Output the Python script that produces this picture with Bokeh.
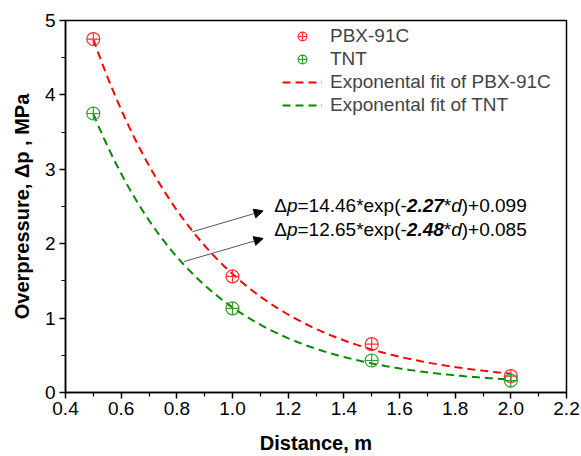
import numpy as np
from bokeh.plotting import figure
from bokeh.models import (Legend, LegendItem, Label, Arrow, NormalHead,
                          FixedTicker, Range1d, NumeralTickFormatter)
from bokeh.embed import file_html
from bokeh.resources import INLINE

# ---- data ----
distance = [0.5, 1.0, 1.5, 2.0]
pbx_overpressure = [4.75, 1.56, 0.65, 0.22]
tnt_overpressure = [3.75, 1.13, 0.43, 0.16]

# exponential fit coefficients: dp = A*exp(-B*d) + C
pbx_fit = [14.46, 2.27, 0.099]
tnt_fit = [12.65, 2.48, 0.085]
fit_range = [0.5, 2.0]

x_ticks = [0.4, 0.6, 0.8, 1.0, 1.2, 1.4, 1.6, 1.8, 2.0, 2.2]
y_ticks = [0, 1, 2, 3, 4, 5]

legend_labels = ["PBX-91C", "TNT", "Exponental fit of PBX-91C", "Exponental fit of TNT"]
x_title = "Distance, m"
y_title = "Overpressure, \u0394p , MPa"

# arrows (start x, start y, end x, end y)
arrow_pbx = [0.856, 2.16, 1.11, 2.44]
arrow_tnt = [0.826, 1.76, 1.11, 2.07]

FONT = "Liberation Sans"
RED_M, GREEN_M = "#ff3030", "#2e9e2e"
RED_L, GREEN_L = "#ff0000", "#008a00"

W, H = 581, 456
p = figure(width=W, height=H, output_backend="svg", toolbar_location=None,
           x_range=Range1d(0.4, 2.2), y_range=Range1d(0, 5),
           min_border_left=65, min_border_right=15, min_border_top=20, min_border_bottom=63)
p.background_fill_color = "white"
p.border_fill_color = "white"
p.outline_line_color = "black"
p.outline_line_width = 1.5
p.xgrid.visible = False
p.ygrid.visible = False

for ax in (p.xaxis[0], p.yaxis[0]):
    ax.axis_line_width = 1.5
    ax.major_tick_line_width = 1.5
    ax.minor_tick_line_width = 1.2
    ax.major_tick_in = 0
    ax.major_tick_out = 6
    ax.minor_tick_in = 0
    ax.minor_tick_out = 4
    ax.major_label_text_font = FONT
    ax.major_label_text_font_size = "19px"
    ax.major_label_text_color = "black"
    ax.axis_label_text_font = FONT
    ax.axis_label_text_font_size = "20px"
    ax.axis_label_text_font_style = "bold"
    ax.axis_label_text_color = "black"

p.xaxis.ticker = FixedTicker(ticks=x_ticks, minor_ticks=[round(v + 0.1, 2) for v in x_ticks[:-1]])
p.yaxis.ticker = FixedTicker(ticks=y_ticks, minor_ticks=[v + 0.5 for v in y_ticks[:-1]])
p.xaxis.formatter = NumeralTickFormatter(format="0.0")
p.xaxis.axis_label = x_title
p.yaxis.axis_label = y_title
p.xaxis.major_label_standoff = 3
p.xaxis.axis_label_standoff = 14
p.yaxis.major_label_standoff = 4
p.yaxis.axis_label_standoff = 9

# fit curves
xs = np.linspace(fit_range[0], fit_range[1], 200)
pbx_curve = pbx_fit[0] * np.exp(-pbx_fit[1] * xs) + pbx_fit[2]
tnt_curve = tnt_fit[0] * np.exp(-tnt_fit[1] * xs) + tnt_fit[2]

r_fit_pbx = p.line(xs, pbx_curve, line_color=RED_L, line_width=2, line_dash="8 5")
r_fit_tnt = p.line(xs, tnt_curve, line_color=GREEN_L, line_width=2, line_dash="8 5")

r_pbx = p.scatter(distance, pbx_overpressure, marker="circle_cross", size=13,
                  fill_color=None, line_color=RED_M, line_width=1.2)
r_tnt = p.scatter(distance, tnt_overpressure, marker="circle_cross", size=13,
                  fill_color=None, line_color=GREEN_M, line_width=1.2)

legend = Legend(items=[LegendItem(label=legend_labels[0], renderers=[r_pbx]),
                       LegendItem(label=legend_labels[1], renderers=[r_tnt]),
                       LegendItem(label=legend_labels[2], renderers=[r_fit_pbx]),
                       LegendItem(label=legend_labels[3], renderers=[r_fit_tnt])],
                location=(217, 276), border_line_color=None, background_fill_alpha=0,
                label_text_font=FONT, label_text_font_size="19px",
                glyph_width=40, glyph_height=22, label_height=22, spacing=1,
                padding=4, margin=0, label_standoff=8)
p.add_layout(legend)

# arrows
for a in (arrow_pbx, arrow_tnt):
    p.add_layout(Arrow(x_start=a[0], y_start=a[1], x_end=a[2], y_end=a[3],
                       line_color="#555555", line_width=1,
                       end=NormalHead(size=9, fill_color="black", line_color="black")))

# equations with mixed styles
fs = 19
def eq(coeffs, x0, y0):
    a, b, c = coeffs
    segs = [("\u0394", "normal", 0), ("p", "italic", 668),
            ("=%.2f*exp(-" % a, "normal", 1224),
            ("%.2f" % b, "bold italic", 6977),
            ("*", "normal", 8923), ("d", "italic", 9312),
            (")+%s" % ("%.3f" % c), "normal", 9868)]
    for t, st, off in segs:
        p.add_layout(Label(x=x0, y=y0, text=t, x_offset=off * fs / 1000.0,
                           text_font=FONT, text_font_size="%dpx" % fs,
                           text_font_style=st, text_baseline="middle",
                           text_color="black"))

eq(pbx_fit, 1.15, 2.52)
eq(tnt_fit, 1.15, 2.185)

open("out.html", "w").write(file_html(p, INLINE))
